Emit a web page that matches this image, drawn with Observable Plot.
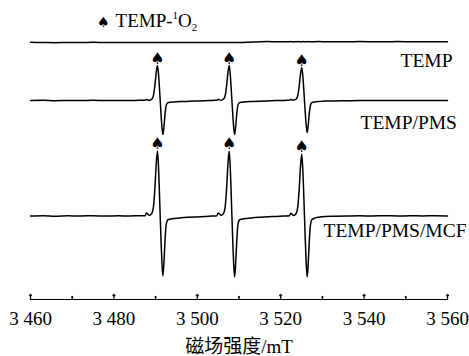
<!DOCTYPE html>
<html><head><meta charset="utf-8">
<script src="https://cdn.jsdelivr.net/npm/d3@7"></script>
<script src="https://cdn.jsdelivr.net/npm/@observablehq/plot@0.6"></script>
<style>body{margin:0;background:#fff}</style>
</head><body><div id="chart"></div>
<script>
// Magnetic field (mT), shared sampling for all spectra
const field = [
  3460, 3463, 3466, 3469, 3472, 3475, 3478, 3481, 3484, 3486,
  3487.5, 3487.8, 3488.1, 3488.5, 3489.1, 3489.5, 3489.85, 3490.15, 3490.45, 3490.7, 3490.9, 3491.1, 3491.3, 3491.52, 3491.75, 3492.0, 3492.25, 3492.55, 3492.9, 3493.5, 3494.6, 3496.1,
  3498, 3500, 3502, 3503.5,
  3504.7, 3505.0, 3505.3, 3505.7, 3506.3, 3506.7, 3507.05, 3507.35, 3507.65, 3507.9, 3508.1, 3508.3, 3508.5, 3508.72, 3508.95, 3509.2, 3509.45, 3509.75, 3510.1, 3510.7, 3511.8, 3513.3,
  3515, 3517, 3519, 3520.8,
  3522.1, 3522.4, 3522.7, 3523.1, 3523.7, 3524.1, 3524.45, 3524.75, 3525.05, 3525.3, 3525.5, 3525.7, 3525.9, 3526.12, 3526.35, 3526.6, 3526.85, 3527.15, 3527.5, 3528.1, 3529.2, 3530.7,
  3533, 3536, 3539, 3542, 3545, 3548, 3551, 3554, 3557, 3560
];
// Signal intensities (a.u.)
const temp = [
  0.2, 0, -0.2, 0.1, 0, 0.2, -0.1, 0, 0.1, 0,
  0, 0.1, 0, -0.1, 0, 0.1, 0, 0, -0.1, 0, 0.1, 0, 0, -0.1, 0, 0.1, 0, 0, -0.1, 0, 0.1, 0,
  0, 0.1, -0.1, 0,
  0, 0.1, 0, -0.1, 0, 0.1, 0, 0, -0.1, 0, 0.1, 0, 0, -0.1, 0, 0.1, 0, 0, -0.1, 0, 0.2, 0.4,
  0.8, 0.9, 0.7, 0.8,
  0.8, 0.9, 0.8, 0.7, 0.8, 0.9, 0.8, 0.8, 0.7, 0.8, 0.9, 0.8, 0.8, 0.7, 0.8, 0.9, 0.8, 0.8, 0.7, 0.8, 0.9, 0.8,
  0.8, 0.7, 0.9, 0.8, 0.7, 0.9, 0.8, 0.7, 0.8, 0.8
];
const tempPms = [
  0, 0.2, -0.2, 0.1, 0, 0.2, -0.1, 0.1, 0, 0.2,
  0.2, 1.0, 0.6, 0.3, 1.4, 5.3, 15.8, 28, 35, 26.3, 14, 0, -13.6, -26.5, -34, -26.5, -14.3, -4.8, -2.4, -1.8, -1.5, -1.1,
  -0.8, -0.5, -0.2, 0.1,
  0.2, 1.2, 0.7, 0.3, 1.5, 5.2, 15.5, 28.2, 35, 26, 13.8, 0, -13.5, -26.6, -34, -26.2, -14, -4.6, -2.2, -1.7, -1.3, -1.0,
  -0.7, -0.4, -0.1, 0.1,
  0.2, 1.1, 0.6, 0.4, 1.3, 5.0, 14.8, 26.4, 33, 24.8, 13.2, 0, -12.8, -25, -32, -25, -13.4, -4.5, -2.0, -1.4, -1.0, -0.6,
  -0.4, -0.2, 0, 0.1, -0.1, 0.1, 0, 0.1, -0.1, 0
];
const tempPmsMcf = [
  0, 0.3, -0.2, 0.2, 0, 0.3, -0.1, 0.2, 0, 0.3,
  0.3, 3.0, 2.0, 0.6, 2.6, 9.8, 29, 52, 65, 48.8, 26, 0, -24, -46.8, -60, -46.8, -25.2, -8.4, -4.0, -3.2, -2.4, -1.8,
  -1.3, -0.9, -0.5, -0.1,
  0.3, 3.0, 2.0, 0.7, 2.7, 9.8, 29, 52, 65, 48.8, 26, 0, -24.4, -47.6, -61, -47.6, -25.6, -8.5, -4.0, -3.2, -2.4, -1.8,
  -1.3, -0.8, -0.4, 0,
  0.3, 2.8, 1.8, 0.6, 2.5, 9.3, 27.9, 49.6, 62, 46.5, 24.8, 0, -24.4, -47.6, -61, -47.6, -25.6, -8.5, -3.5, -2.2, -1.2, -0.6,
  -0.3, 0, 0.2, 0, 0.3, 0, 0.2, 0.1, 0.2, 0
];
const seriesNames = ["TEMP", "TEMP/PMS", "TEMP/PMS/MCF"];
const offsets = [257, 199, 83.5];          // vertical stacking offsets (a.u.)
const majorTicks = [3460, 3480, 3500, 3520, 3540, 3560];
const tickLabels = ["3 460", "3 480", "3 500", "3 520", "3 540", "3 560"];
const minorTicks = [3470, 3490, 3510, 3530, 3550];
const xLabel = "磁场强度/mT";
const peakWindows = [[3487, 3496], [3504, 3513], [3521, 3531]];

const seriesValues = [temp, tempPms, tempPmsMcf];
const rows = seriesValues.flatMap((vals, i) =>
  vals.map((v, j) => ({series: seriesNames[i], field: field[j], y: offsets[i] + v})));
const spades = [];
for (const i of [1, 2]) for (const [a, b] of peakWindows) {
  const pts = rows.filter(r => r.series === seriesNames[i] && r.field >= a && r.field <= b);
  spades.push(d3.greatest(pts, r => r.y));
}
const labelRows = seriesNames.map((s, i) => ({series: s, field: 3560, y: offsets[i]}));

const serif = "'Liberation Serif', 'Noto Sans CJK SC', serif";
const plot = Plot.plot({
  width: 469, height: 356,
  marginLeft: 30, marginRight: 22, marginTop: 0, marginBottom: 57,
  x: {domain: [3460, 3560], axis: null},
  y: {domain: [0, 299], axis: null},
  style: {fontFamily: serif, background: "white", color: "black"},
  marks: [
    Plot.frame({anchor: "bottom", stroke: "black", strokeWidth: 1.2}),
    Plot.vectorX(majorTicks, {x: d => d, frameAnchor: "bottom", length: 5, anchor: "start", rotate: 0, stroke: "black", strokeWidth: 1.2}),
    Plot.vectorX(minorTicks, {x: d => d, frameAnchor: "bottom", length: 3, anchor: "start", rotate: 0, stroke: "black", strokeWidth: 1.2}),
    Plot.text(majorTicks, {x: d => d, text: (d, i) => tickLabels[i], frameAnchor: "bottom", dy: 19, fontSize: 19, lineAnchor: "middle"}),
    Plot.text([xLabel], {frameAnchor: "bottom", dy: 47, fontSize: 19, lineAnchor: "middle"}),
    Plot.line(rows, {x: "field", y: "y", z: "series", stroke: "black", strokeWidth: 1.5, curve: "monotone-x"}),
    Plot.text(spades, {x: "field", y: "y", text: () => "♠", dy: -7, lineAnchor: "middle", fontFamily: "DejaVu Sans", fontSize: 16}),
    Plot.text([labelRows[0]], {x: "field", y: "y", text: "series", textAnchor: "start", dx: -47, dy: 18, fontSize: 19.5, lineAnchor: "middle"}),
    Plot.text([labelRows[1]], {x: "field", y: "y", text: "series", textAnchor: "start", dx: -87, dy: 22, fontSize: 19.5, lineAnchor: "middle"}),
    Plot.text([labelRows[2]], {x: "field", y: "y", text: "series", textAnchor: "start", dx: -124, dy: 15, fontSize: 19.5, lineAnchor: "middle"})
  ]
});
const svg = d3.select(plot);
const t = svg.append("text").attr("x", 97).attr("y", 27).attr("text-anchor", "start")
  .attr("font-size", 19).attr("font-family", serif).attr("fill", "black");
t.append("tspan").attr("font-family", "DejaVu Sans").attr("font-size", 14).text("♠");
t.append("tspan").attr("dx", 6).text("TEMP-");
t.append("tspan").attr("font-size", 11).attr("dy", -8).text("1");
t.append("tspan").attr("dy", 8).text("O");
t.append("tspan").attr("font-size", 11).attr("dy", 4).text("2");
document.getElementById("chart").appendChild(plot);
</script>
</body></html>
